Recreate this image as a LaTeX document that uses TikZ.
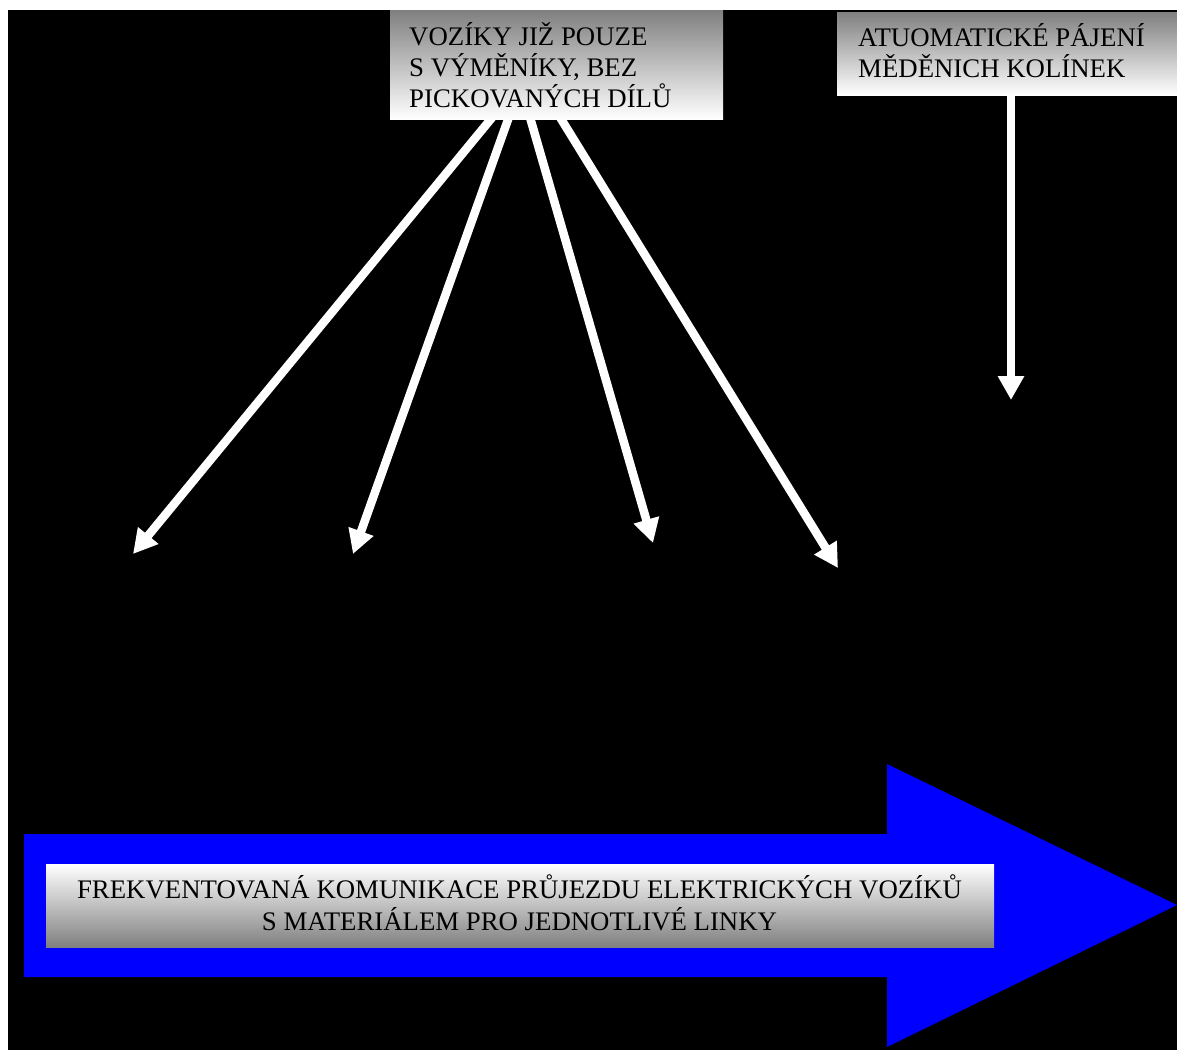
\documentclass[tikz,border=0pt]{standalone}
\usepackage{fontspec}
\setmainfont{Liberation Serif}
\usetikzlibrary{arrows.meta}
\pgfdeclarelayer{back}
\pgfdeclarelayer{mid}
\pgfsetlayers{back,mid,main}
\begin{document}
\begin{tikzpicture}[x=1pt,y=-1pt,
  note/.style={shade, top color=black!50, bottom color=white,
    inner sep=0pt, anchor=north west},
  noteflip/.style={shade, top color=white, bottom color=black!50,
    inner sep=0pt, anchor=north west},
  label/.style={inner sep=0pt, font=\fontsize{26.8}{31}\selectfont, align=left},
  pointer/.style={draw=white, line width=8.5pt,
    -{Triangle[width=25pt,length=24pt]}}]
  % page and black backdrop
  \useasboundingbox (0,0) rectangle (1177,1050);
  \begin{pgfonlayer}{back}
    \fill[black] (8,10) rectangle (1177,1050);
  \end{pgfonlayer}

  % boxes
  \node[note, minimum width=333pt, minimum height=109pt] (vozbox) at (390,10) {};
  \node[label, anchor=base west] (voztext) at (409,107)
    {VOZÍKY JIŽ POUZE\\S VÝMĚNÍKY, BEZ\\PICKOVANÝCH DÍLŮ};
  \node[note, minimum width=340pt, minimum height=83pt] (pajbox) at (837,12) {};
  \node[label, anchor=base west] (pajtext) at (858,77)
    {ATUOMATICKÉ PÁJENÍ\\MĚDĚNICH KOLÍNEK};

  % main flow arrow
  \fill[blue] (24,834) -- (887,834) -- (887,764) -- (1177,905)
    -- (887,1047) -- (887,977) -- (24,977) -- cycle;
  \node[noteflip, minimum width=948pt, minimum height=83pt] (flowbox) at (46,864) {};
  \node[label, align=center, anchor=base, font=\fontsize{26.8}{32}\selectfont]
    (flowtext) at (519.5,930)
    {FREKVENTOVANÁ KOMUNIKACE PRŮJEZDU ELEKTRICKÝCH VOZÍKŮ\\S MATERIÁLEM PRO JEDNOTLIVÉ LINKY};

  % arrow ends
  \coordinate (s1) at (495,114);
  \coordinate (s2) at (510,114);
  \coordinate (s3) at (529,114);
  \coordinate (s4) at (558,114);
  \coordinate (s5) at (1011,90);
  \coordinate (t1) at (133,554);
  \coordinate (t2) at (353,554);
  \coordinate (t3) at (653,543);
  \coordinate (t4) at (838,568);
  \coordinate (t5) at (1011,400);

  \begin{pgfonlayer}{mid}
    \foreach \i in {1,...,5}
      \draw[pointer] (s\i) -- (t\i);
  \end{pgfonlayer}
\end{tikzpicture}
\end{document}
